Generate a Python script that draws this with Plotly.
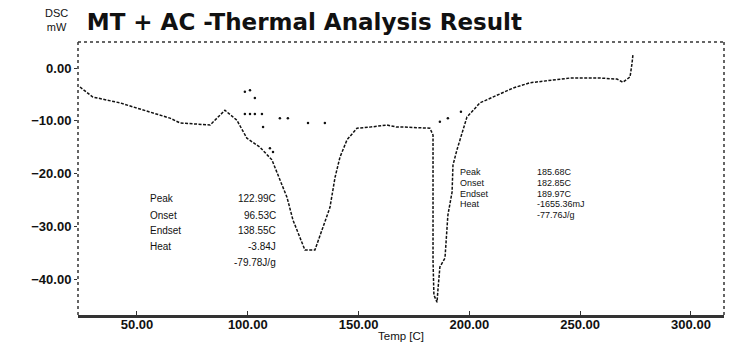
import plotly.graph_objects as go

# Main DSC curve (Temp [C], DSC [mW])
temp = [24.3, 30.1, 42.3, 50.0, 64.9, 69.4, 83.0, 89.7, 95.1, 99.6, 105.5, 110.9,
        114.5, 117.7, 120.4, 123.6, 125.8, 130.3, 133.9, 137.1, 139.4, 141.6, 144.8,
        149.3, 155.1, 162.8, 167.3, 170.9, 182.2, 183.6, 183.6, 183.6, 184.0, 185.4,
        185.8, 186.7, 189.0, 189.4, 190.3, 192.2, 192.6, 194.4, 196.7, 198.9, 204.8,
        212.5, 219.7, 227.3, 237.7, 245.4, 259.0, 266.6, 269.3, 272.5, 273.4, 273.8]
dsc = [-3.6, -5.5, -6.6, -7.6, -9.5, -10.4, -10.8, -8.0, -9.9, -13.3, -15.0, -17.4,
       -21.2, -24.5, -28.8, -32.0, -34.5, -34.5, -30.1, -26.4, -20.7, -16.9, -13.6,
       -11.4, -11.2, -10.8, -11.2, -11.2, -11.4, -12.7, -25.0, -36.4, -43.0, -44.4,
       -42.1, -37.7, -36.0, -33.2, -27.9, -23.5, -18.4, -15.5, -12.3, -9.3, -6.6,
       -5.1, -3.8, -2.8, -2.3, -1.9, -1.9, -2.1, -2.7, -1.7, 0.9, 2.5]

# Scattered baseline / construction dots
base_t = [98.7, 101.0, 103.2, 98.7, 101.0, 103.2, 106.4, 106.9, 114.5, 118.1, 127.2,
          134.8, 110.0, 111.4, 186.7, 190.3, 196.2]
base_v = [-4.5, -4.2, -5.7, -8.7, -8.7, -8.7, -8.7, -11.2, -9.5, -9.5, -10.4,
          -10.4, -15.2, -15.9, -10.2, -9.5, -8.3]

y_ticks = [0, -10, -20, -30, -40]
x_ticks = [50, 100, 150, 200, 250, 300]

left_labels = ["Peak", "Onset", "Endset", "Heat", ""]
left_values = ["122.99C", "96.53C", "138.55C", "-3.84J", "-79.78J/g"]
right_labels = ["Peak", "Onset", "Endset", "Heat", ""]
right_values = ["185.68C", "182.85C", "189.97C", "-1655.36mJ", "-77.76J/g"]

fig = go.Figure()
fig.add_trace(go.Scatter(x=temp, y=dsc, mode="lines",
                         line=dict(color="#111", width=1.5, dash="3px,1.5px"),
                         showlegend=False, hoverinfo="skip"))
fig.add_trace(go.Scatter(x=base_t, y=base_v, mode="markers",
                         marker=dict(color="#111", size=2.5),
                         showlegend=False, hoverinfo="skip"))

FONT = "Liberation Sans, Arial, sans-serif"

ann = []
ly = [-24.8, -27.9, -30.7, -33.9, -36.8]
for lab, val, yy in zip(left_labels, left_values, ly):
    if lab:
        ann.append(dict(x=55.0, y=yy, text=lab, showarrow=False, xanchor="left",
                        font=dict(size=10, color="#111", family=FONT)))
    ann.append(dict(x=113.5, y=yy, text=val, showarrow=False, xanchor="right",
                    font=dict(size=10, color="#111", family=FONT)))
ry = [-19.7, -21.8, -23.8, -25.7, -27.9]
for lab, val, yy in zip(right_labels, right_values, ry):
    if lab:
        ann.append(dict(x=194.9, y=yy, text=lab, showarrow=False, xanchor="left",
                        font=dict(size=9, color="#111", family=FONT)))
    ann.append(dict(x=229.6, y=yy, text=val, showarrow=False, xanchor="left",
                    font=dict(size=9, color="#111", family=FONT)))

ann.append(dict(xref="paper", yref="paper", x=-0.033, y=1.08, text="DSC<br>mW",
                showarrow=False, xanchor="center", yanchor="middle",
                font=dict(size=11, color="#111", family=FONT)))
ann.append(dict(xref="paper", yref="paper", x=0.5, y=-0.108, text="Temp [C]",
                showarrow=False, xanchor="center", yanchor="bottom",
                font=dict(size=11.5, color="#111", family=FONT)))

fig.update_layout(
    width=729, height=345,
    margin=dict(l=78, r=5, t=42, b=30, autoexpand=False),
    paper_bgcolor="white", plot_bgcolor="white",
    title=dict(text="<b>MT + AC -Thermal Analysis Result</b>", xref="container",
               x=0.119, xanchor="left", y=0.936, yanchor="middle",
               font=dict(size=23, color="#111", family="DejaVu Sans")),
    annotations=ann,
    xaxis=dict(range=[23.4, 314.9], tickvals=x_ticks, tickformat=".2f",
               showgrid=False, zeroline=False, showline=True, linecolor="#333",
               linewidth=3, ticks="inside", ticklen=4, tickcolor="#333",
               automargin=False, ticklabelstandoff=-5,
               tickfont=dict(size=13, color="#111", family=FONT, weight="bold")),
    yaxis=dict(range=[-46.8, 4.93], tickvals=y_ticks, tickformat=".2f",
               showgrid=False, zeroline=False, showline=False,
               ticks="outside", ticklen=3, tickcolor="#333", automargin=False,
               tickfont=dict(size=13, color="#111", family=FONT, weight="bold")),
    shapes=[
        dict(type="line", xref="paper", yref="paper", x0=0, x1=1, y0=1, y1=1,
             line=dict(color="#333", width=1.5, dash="dot")),
        dict(type="line", xref="paper", yref="paper", x0=1, x1=1, y0=0, y1=1,
             line=dict(color="#333", width=1.5, dash="dot")),
        dict(type="line", xref="paper", yref="paper", x0=0, x1=0, y0=0, y1=1,
             line=dict(color="#333", width=1.5, dash="dot")),
    ],
)

fig.write_html(
    "out.html",
    config={"displayModeBar": False},
    post_script="document.body.style.margin='0';document.body.style.overflow='hidden';",
)
